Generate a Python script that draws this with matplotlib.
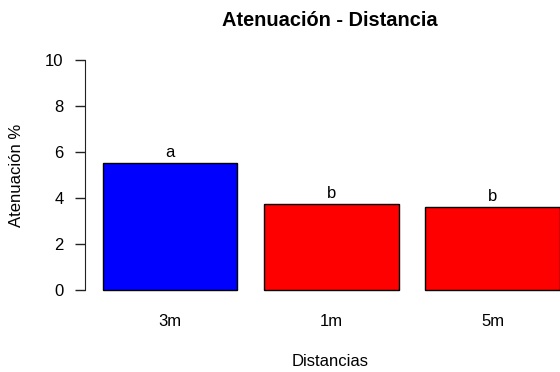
import numpy as np
import matplotlib
matplotlib.use("Agg")
import matplotlib.pyplot as plt

plt.rcParams['font.family'] = ['Liberation Sans', 'DejaVu Sans']

# data
distancias = ["3m", "1m", "5m"]
atenuacion = [5.53, 3.74, 3.6]
letras = ["a", "b", "b"]
colores = ["#0000FF", "#FF0000", "#FF0000"]

W, H = 560, 372
fig = plt.figure(figsize=(W / 100, H / 100), dpi=100)

# plot region in pixels (R-like barplot, runs past the right edge)
left, right, top, bottom = 84.7, 578.0, 50.8, 299.2
ax = fig.add_axes([left / W, 1 - bottom / H, (right - left) / W, (bottom - top) / H])

# R barplot positions: width 1, space 0.2
x = 0.2 + np.arange(len(distancias)) * 1.2 + 0.5
ax.bar(x, atenuacion, width=1.0, color=colores, edgecolor="black", linewidth=1.0)

for xi, yi, l in zip(x, atenuacion, letras):
    ax.annotate(l, (xi, yi), xytext=(0, 4.3), textcoords="offset points",
                ha="center", va="baseline", fontsize=12)

ax.set_xlim(0.064, 3.736)
ax.set_ylim(-0.4, 10.4)
ax.set_yticks([0, 2, 4, 6, 8, 10])
ax.set_xticks(x)
ax.set_xticklabels(distancias)

for s in ["top", "right", "bottom"]:
    ax.spines[s].set_visible(False)
ax.spines["left"].set_bounds(0, 10)
ax.spines["left"].set_color("#222222")

ax.tick_params(axis="y", length=7.2, width=1, pad=8, labelsize=12, color="#222222")
ax.tick_params(axis="x", length=0, pad=11, labelsize=12)

ax.set_ylabel("Atenuación %", fontsize=12)
ax.yaxis.set_label_coords(-0.139, 0.5)
ax.set_xlabel("Distancias", fontsize=12)
ax.xaxis.set_label_coords((330 - left) / (right - left), (bottom - 361) / (bottom - top))
ax.xaxis.label.set_va("center")
ax.yaxis.label.set_va("center")

fig.text(330 / W, 1 - 20 / H, "Atenuación - Distancia", ha="center", va="center",
         fontsize=14.4, fontweight="bold")

fig.savefig("out.png", dpi=100)
